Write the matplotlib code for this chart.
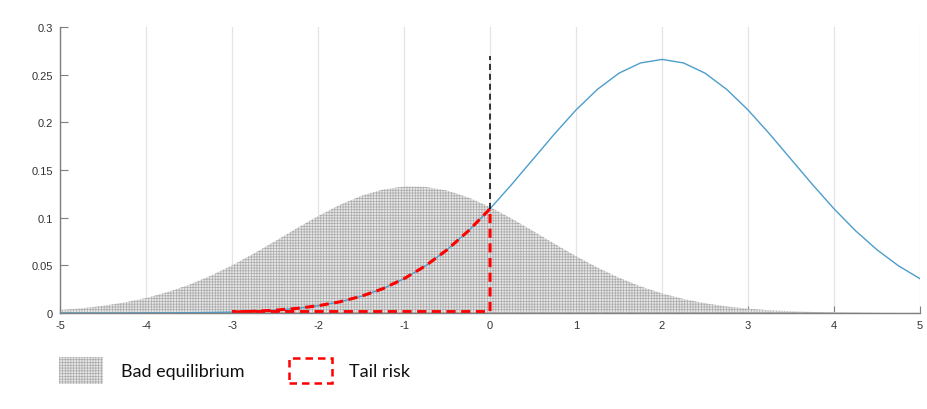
"""Bad equilibrium vs. shifted distribution, with tail-risk region marked."""

import matplotlib.pyplot as plt
from matplotlib.patches import Rectangle

plt.rcParams["axes.unicode_minus"] = False
plt.rcParams["hatch.linewidth"] = 0.5

# values, x step 0.25
X = [-5.0, -4.75, -4.5, -4.25, -4.0, -3.75, -3.5, -3.25, -3.0, -2.75,
     -2.5, -2.25, -2.0, -1.75, -1.5, -1.25, -1.0, -0.75, -0.5, -0.25,
     0.0, 0.25, 0.5, 0.75, 1.0, 1.25, 1.5, 1.75, 2.0, 2.25,
     2.5, 2.75, 3.0, 3.25, 3.5, 3.75, 4.0, 4.25, 4.5, 4.75, 5.0]

BAD_EQ = [0.0032, 0.0049, 0.0075, 0.0110, 0.0157, 0.0219, 0.0296, 0.0390, 0.0499, 0.0622,
          0.0753, 0.0887, 0.1016, 0.1133, 0.1228, 0.1294, 0.1327, 0.1323, 0.1284, 0.1211,
          0.1111, 0.0991, 0.0860, 0.0726, 0.0596, 0.0476, 0.0370, 0.0279, 0.0205, 0.0147,
          0.0102, 0.0069, 0.0045, 0.0029, 0.0018, 0.0011, 0.0006, 0.0004, 0.0002, 0.0001, 0.0001]

SHIFTED = [0.0000, 0.0000, 0.0000, 0.0000, 0.0001, 0.0002, 0.0003, 0.0006, 0.0010, 0.0018,
           0.0030, 0.0048, 0.0076, 0.0117, 0.0175, 0.0254, 0.0360, 0.0495, 0.0663, 0.0863,
           0.1093, 0.1347, 0.1613, 0.1879, 0.2130, 0.2347, 0.2516, 0.2623, 0.2660, 0.2623,
           0.2516, 0.2347, 0.2130, 0.1879, 0.1613, 0.1347, 0.1093, 0.0863, 0.0663, 0.0495, 0.0360]

TAIL_FROM, TAIL_TO = -3.0, 0.0
MARKER_TOP = 0.27

X_TICKS = [-5, -4, -3, -2, -1, 0, 1, 2, 3, 4, 5]
Y_TICKS = [0, 0.05, 0.1, 0.15, 0.2, 0.25, 0.3]
Y_LABELS = ["0", "0.05", "0.1", "0.15", "0.2", "0.25", "0.3"]

HATCH_FACE = "#e6e6e6"
HATCH_EDGE = "#ababab"
BLUE = "#4d9dcb"
RED = "#ff0000"
AXIS_GREY = "#7f7f7f"

fig = plt.figure(figsize=(9.28, 4.10), dpi=100)
ax = fig.add_axes([0.0647, 0.2341, 0.9267, 0.6976])

ax.fill_between(X, 0, BAD_EQ, facecolor=HATCH_FACE, edgecolor=HATCH_EDGE,
                hatch="++++++", linewidth=0, zorder=2)
ax.plot(X, SHIFTED, color=BLUE, linewidth=1.0, zorder=3)

# tail risk outline: shifted curve from -3 to 0, down to the axis, back to -3
tail_x = [x for x in X if TAIL_FROM <= x <= TAIL_TO]
tail_y = [y for x, y in zip(X, SHIFTED) if TAIL_FROM <= x <= TAIL_TO]
tail_x = tail_x + [TAIL_TO, TAIL_FROM]
tail_y = tail_y + [0.0015, 0.0015]
ax.plot(tail_x, tail_y, color=RED, linewidth=2.2, linestyle=(0, (3, 1.8)),
        zorder=4, solid_joinstyle="miter")

ax.plot([TAIL_TO, TAIL_TO], [tail_y[-3], MARKER_TOP], color="black",
        linewidth=1.1, linestyle=(0, (4, 2.5)), zorder=4)

ax.set_xlim(-5, 5)
ax.set_ylim(0, 0.3)
ax.set_xticks(X_TICKS)
ax.set_xticklabels([str(t) for t in X_TICKS])
ax.set_yticks(Y_TICKS)
ax.set_yticklabels(Y_LABELS)
ax.tick_params(direction="in", length=6, width=0.8, color=AXIS_GREY,
               labelsize=8, labelcolor="#333333", pad=5)
ax.tick_params(axis="x", length=5)
for lab in ax.get_xticklabels() + ax.get_yticklabels():
    lab.set_family("Liberation Sans")

ax.grid(axis="x", color="#e4e4e4", linewidth=0.9, zorder=0)
ax.set_axisbelow(True)
for side in ("top", "right"):
    ax.spines[side].set_visible(False)
for side in ("left", "bottom"):
    ax.spines[side].set_color(AXIS_GREY)
    ax.spines[side].set_linewidth(1.0)
    ax.spines[side].set_zorder(5)

# hand-drawn legend below the axes
W, H = 928, 410
fig.add_artist(Rectangle((59 / W, 1 - 385 / H), 44 / W, 27 / H, transform=fig.transFigure,
                         facecolor=HATCH_FACE, edgecolor=HATCH_EDGE, hatch="++++++",
                         linewidth=0))
fig.text(121 / W, 1 - 372 / H, "Bad equilibrium", fontsize=13, family="Lato",
         va="center", ha="left", color="#111111")
fig.add_artist(Rectangle((289 / W, 1 - 384 / H), 43 / W, 25 / H, transform=fig.transFigure,
                         facecolor="none", edgecolor=RED, linewidth=1.8,
                         linestyle=(0, (3, 2))))
fig.text(349 / W, 1 - 372 / H, "Tail risk", fontsize=13, family="Lato",
         va="center", ha="left", color="#111111")

fig.savefig("out.png", dpi=100)
